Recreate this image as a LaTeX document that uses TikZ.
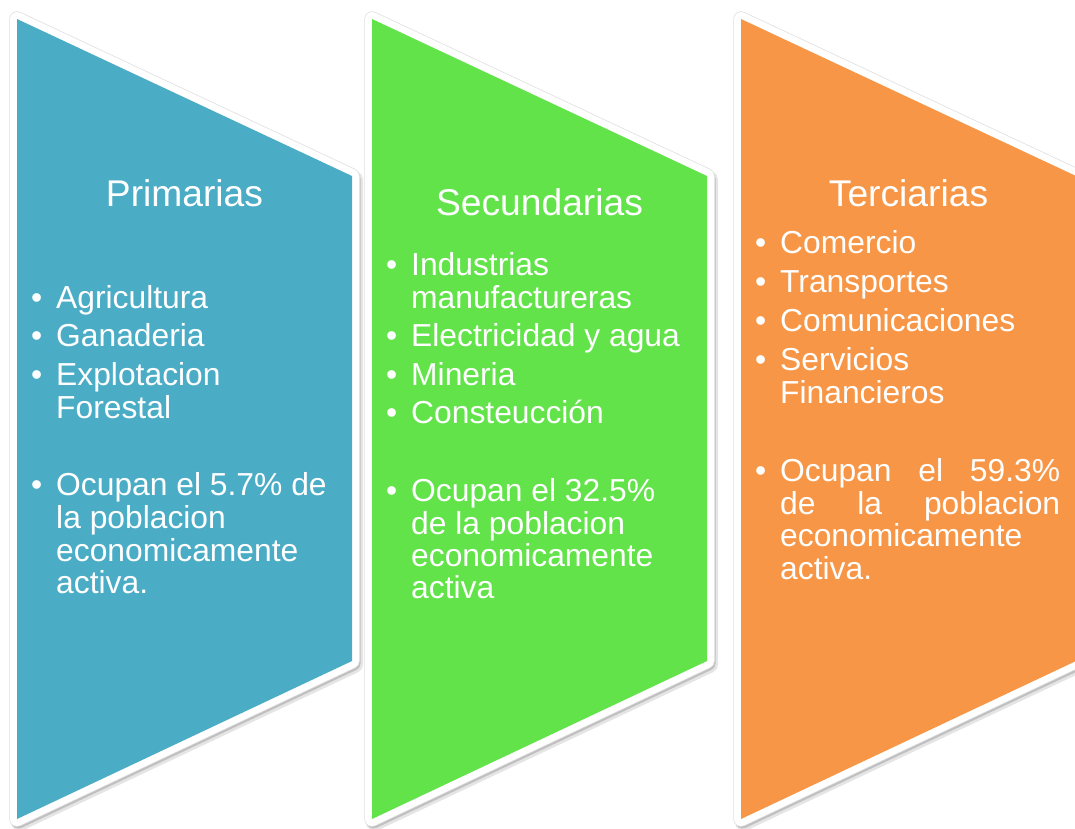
\documentclass[tikz,border=0pt]{standalone}
\usepackage{fontspec}
\setmainfont{Liberation Sans}
\definecolor{cblue}{HTML}{4BACC6}
\definecolor{cgreen}{HTML}{62E34A}
\definecolor{corange}{HTML}{F79646}
\tikzset{
  shadowwide/.style={draw=black, draw opacity=0.10, line width=17pt, line join=round},
  shadownarrow/.style={draw=black, draw opacity=0.16, line width=14pt, line join=round},
  faintedge/.style={draw=black!12, line width=15.5pt, line join=round},
  rim/.style={draw=white, line width=14pt, line join=round},
  hd/.style={font=\fontsize{37.2}{40}\selectfont, text=white, anchor=base, inner sep=0pt},
  bodyt/.style={font=\fontsize{31.8}{33}\selectfont, text=white, anchor=base west, inner sep=0pt},
}
\begin{document}
\begin{tikzpicture}[x=1pt,y=-1pt]
\useasboundingbox (0,0) rectangle (1075,828);
\fill[white] (0,0) rectangle (1075,828);
\clip (0,0) rectangle (1075,828);
% chevron shapes
\foreach \x/\c in {17/cblue,372/cgreen,741/corange}{
  \begin{scope}[xshift=\x]
    \path[shadowwide, shift={(2.5,3.5)}] (0,19) -- (335,176) -- (335,661) -- (0,819) -- cycle;
    \path[shadownarrow, shift={(1.5,2.5)}] (0,19) -- (335,176) -- (335,661) -- (0,819) -- cycle;
    \path[faintedge] (0,19) -- (335,176) -- (335,661) -- (0,819) -- cycle;
    \path[rim] (0,19) -- (335,176) -- (335,661) -- (0,819) -- cycle;
    \fill[\c] (0,19) -- (335,176) -- (335,661) -- (0,819) -- cycle;
  \end{scope}
}
% column 1
\node[hd] (h1) at (184.5,206.5) {Primarias};
\node[bodyt] (b11) at (31,308.3) {•};
\node[bodyt] (t11) at (56,308.3) {Agricultura};
\node[bodyt] (b12) at (31,346.7) {•};
\node[bodyt] (t12) at (56,346.7) {Ganaderia};
\node[bodyt] (b13) at (31,385) {•};
\node[bodyt] (t13) at (56,385) {Explotacion};
\node[bodyt] (t13b) at (56,418.3) {Forestal};
\node[bodyt] (b14) at (31,495) {•};
\node[bodyt] (t14) at (56,495) {Ocupan el 5.7\% de};
\node[bodyt] (t14b) at (56,528.3) {la poblacion};
\node[bodyt] (t14c) at (56,561.4) {economicamente};
\node[bodyt] (t14d) at (56,593.8) {activa.};
% column 2
\node[hd] (h2) at (539.5,215) {Secundarias};
\node[bodyt] (b21) at (386,275) {•};
\node[bodyt] (t21) at (411,275) {Industrias};
\node[bodyt] (t21b) at (411,308.3) {manufactureras};
\node[bodyt] (b22) at (386,346.7) {•};
\node[bodyt] (t22) at (411,346.7) {Electricidad y agua};
\node[bodyt] (b23) at (386,385) {•};
\node[bodyt] (t23) at (411,385) {Mineria};
\node[bodyt] (b24) at (386,423.3) {•};
\node[bodyt] (t24) at (411,423.3) {Consteucción};
\node[bodyt] (b25) at (386,501.7) {•};
\node[bodyt] (t25) at (411,501.7) {Ocupan el 32.5\%};
\node[bodyt] (t25b) at (411,534) {de la poblacion};
\node[bodyt] (t25c) at (411,566.7) {economicamente};
\node[bodyt] (t25d) at (411,598.5) {activa};
% column 3
\node[hd] (h3) at (908.5,206) {Terciarias};
\node[bodyt] (b31) at (755,253.5) {•};
\node[bodyt] (t31) at (780,253.5) {Comercio};
\node[bodyt] (b32) at (755,292.5) {•};
\node[bodyt] (t32) at (780,292.5) {Transportes};
\node[bodyt] (b33) at (755,331.5) {•};
\node[bodyt] (t33) at (780,331.5) {Comunicaciones};
\node[bodyt] (b34) at (755,370) {•};
\node[bodyt] (t34) at (780,370) {Servicios};
\node[bodyt] (t34b) at (780,403.3) {Financieros};
\node[bodyt] (b35) at (755,481.7) {•};
\node[bodyt] (t35) at (780,481.7) {\makebox[280pt][s]{Ocupan el 59.3\%}};
\node[bodyt] (t35b) at (780,514) {\makebox[280pt][s]{de la poblacion}};
\node[bodyt] (t35c) at (780,546.7) {economicamente};
\node[bodyt] (t35d) at (780,579) {activa.};
\end{tikzpicture}
\end{document}
